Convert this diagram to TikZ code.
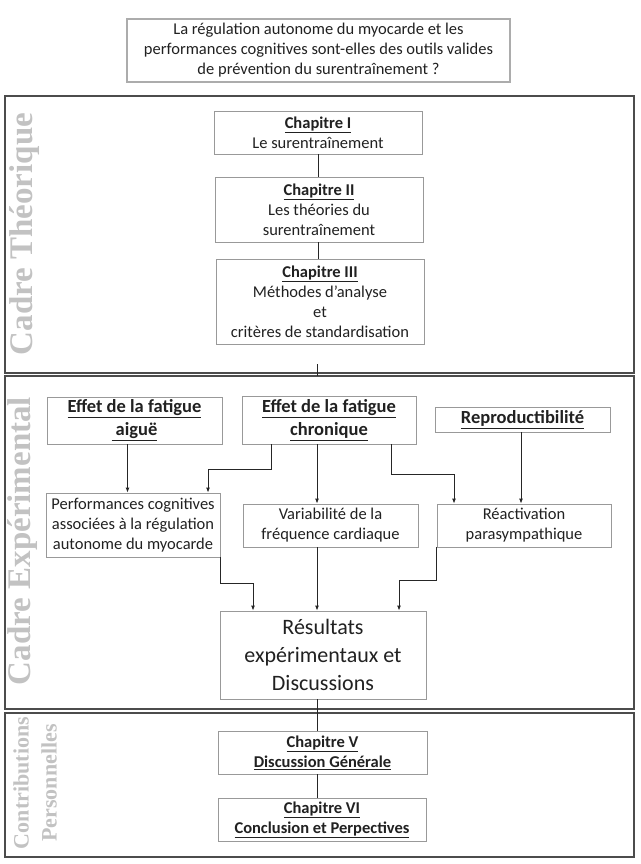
\documentclass[tikz,border=0pt]{standalone}
\usepackage{fontspec}
\setmainfont{Carlito}
\newfontfamily\sidefont{Liberation Serif}
\usetikzlibrary{positioning,arrows.meta}

\definecolor{boxline}{gray}{0.6}
\definecolor{frameline}{gray}{0.3}
\definecolor{sidegray}{gray}{0.76}
\definecolor{inkgray}{gray}{0.13}

\tikzset{
  box/.style={draw=boxline, line width=0.8pt, fill=white, align=center,
    inner sep=0pt, text=inkgray, font=\fontsize{16.5}{20}\selectfont},
  headbox/.style={box, font=\bfseries\fontsize{18.5}{23}\selectfont},
  frame/.style={draw=frameline, line width=1.6pt},
  side/.style={rotate=90, text=sidegray, align=center},
  link/.style={draw=black!85, line width=0.9pt},
}

\begin{document}
\begin{tikzpicture}[x=1pt,y=-1pt,>={Latex[length=5pt,width=4pt]}]
\useasboundingbox (0,0) rectangle (640,864);

% Question
\node[box, draw=gray!65, line width=1.6pt, minimum width=383pt, minimum height=63pt] (quest) at (318.5,50.5)
  {La régulation autonome du myocarde et les\\
   performances cognitives sont-elles des outils valides\\
   de prévention du surentraînement ?};

% Frames
\draw[frame] (5,96) rectangle (634,373);
\draw[frame] (5,376) rectangle (634,709);
\draw[frame] (5,713) rectangle (634,857);

% Side labels
\node[side, font=\sidefont\bfseries\fontsize{33}{33}\selectfont] (theo) at (25,234) {Cadre Théorique};
\node[side, font=\sidefont\bfseries\fontsize{33}{33}\selectfont] (expe) at (23,541) {Cadre Expérimental};
\node[side, font=\sidefont\bfseries\fontsize{22}{28}\selectfont] (contrib) at (35,783) {Contributions\\Personnelles};

% Cadre theorique
\node[box, minimum width=208pt, minimum height=43pt] (ch1) at (318,132.5)
  {\textbf{\underline{Chapitre I}}\\Le surentraînement};
\node[box, minimum width=208pt, minimum height=65pt] (ch2) at (319,209.5)
  {\textbf{\underline{Chapitre II}}\\Les théories du\\surentraînement};
\node[box, minimum width=208pt, minimum height=85pt] (ch3) at (320,301.5)
  {\textbf{\underline{Chapitre III}}\\Méthodes d’analyse\\et\\critères de standardisation};

\draw[link] (ch1.south) -- (ch1.south |- ch2.north);
\draw[link] ([xshift=-1pt]ch2.south) -- ([xshift=-1pt]ch2.south |- ch3.north);
\coordinate (t1) at (317,364);
\coordinate (t2) at (317,376);
\draw[link] (t1) -- (t2);

% Cadre experimental
\node[headbox, minimum width=175pt, minimum height=47pt] (aigue) at (134.5,420.5)
  {\underline{Effet de la fatigue}\\\underline{\ aiguë}};
\node[headbox, minimum width=174pt, minimum height=48pt] (chron) at (329,420)
  {\underline{Effet de la fatigue}\\\underline{chronique}};
\node[headbox, minimum width=175pt, minimum height=25pt] (repro) at (522.5,419.5)
  {\underline{Reproductibilité}};

\node[box, minimum width=174pt, minimum height=64pt] (perf) at (133,525)
  {Performances cognitives\\associées à la régulation\\autonome du myocarde};
\node[box, minimum width=175pt, minimum height=43pt] (var) at (330.5,525.5)
  {Variabilité de la\\fréquence cardiaque};
\node[box, minimum width=174pt, minimum height=43pt] (react) at (524,525.5)
  {Réactivation\\parasympathique};

\node[box, minimum width=206pt, minimum height=88pt, font=\fontsize{22}{28}\selectfont] (res) at (323,655)
  {Résultats\\expérimentaux et\\Discussions};

\draw[link,->] ([xshift=-7pt]aigue.south) -- ([xshift=-7pt]aigue.south |- perf.north);
\draw[link,->] ([xshift=-58pt]chron.south) -- ++(0,25) -| ([xshift=75pt]perf.north);
\draw[link,->] ([xshift=-12pt]chron.south) -- ([xshift=-12pt]chron.south |- var.north);
\draw[link,->] ([xshift=62pt]chron.south) -- ++(0,30) -| ([xshift=-70pt]react.north);
\draw[link,->] ([xshift=-1.5pt]repro.south) -- ([xshift=-1.5pt]repro.south |- react.north);

\draw[link,->] (perf.south east) -- ++(0,26) -| ([xshift=-70pt]res.north);
\draw[link,->] ([xshift=-13.5pt]var.south) -- ([xshift=-13.5pt]var.south |- res.north);
\draw[link,->] (react.south west) -- ++(0,33) -| ([xshift=76pt]res.north);

% Contributions personnelles
\node[box, minimum width=209pt, minimum height=43pt] (ch5) at (322.5,752.5)
  {\textbf{\underline{Chapitre V}}\\\textbf{\underline{Discussion Générale}}};
\node[box, minimum width=208pt, minimum height=43pt] (ch6) at (322,819.5)
  {\textbf{\underline{Chapitre VI}}\\\textbf{\underline{Conclusion et Perpectives}}};

\draw[link] ([xshift=-6pt]res.south) -- ([xshift=-6pt]res.south |- ch5.north);
\draw[link] ([xshift=-5.5pt]ch5.south) -- ([xshift=-5.5pt]ch5.south |- ch6.north);
\end{tikzpicture}
\end{document}
